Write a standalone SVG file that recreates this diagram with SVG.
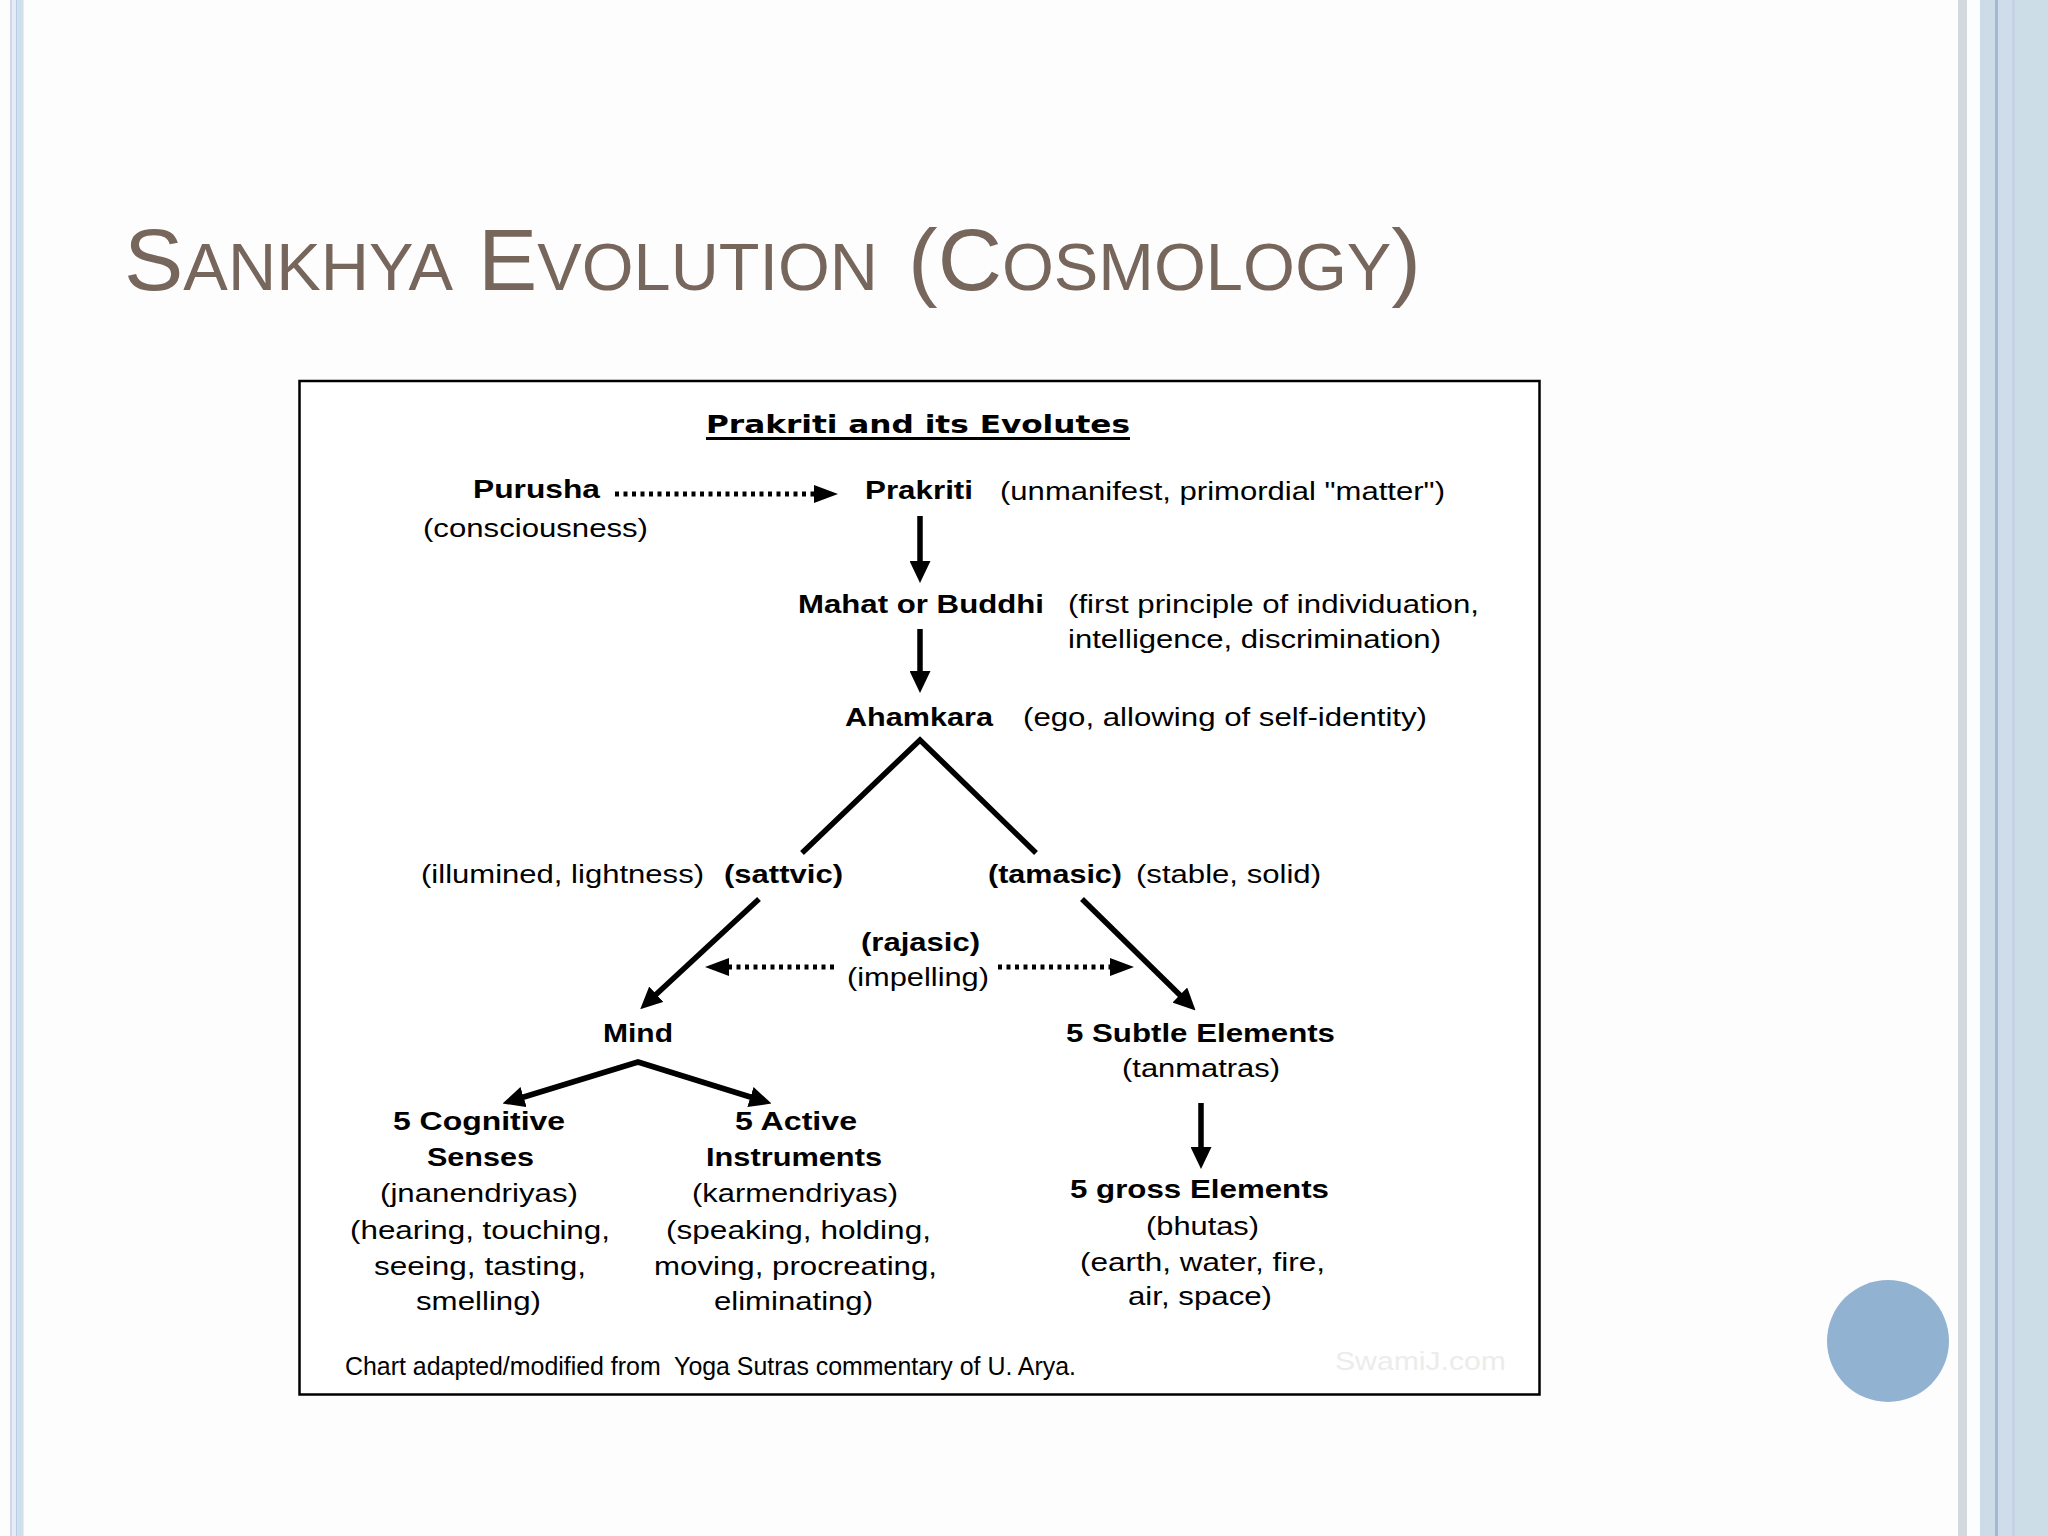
<svg xmlns="http://www.w3.org/2000/svg" width="2048" height="1536" viewBox="0 0 2048 1536">
<style>
.t{font-family:"Liberation Sans",Arial,sans-serif;font-size:26px;fill:#000}
.b{font-weight:bold}
.title{font-family:"Liberation Sans",Arial,sans-serif;fill:#76665b}
.ln{stroke:#000;fill:none}
.solid{stroke-width:5.5}
.dot{stroke-width:5;stroke-dasharray:4 4.5}
</style>
<defs>
<marker id="ah" markerUnits="userSpaceOnUse" viewBox="0 0 22 21" markerWidth="22" markerHeight="21" refX="10" refY="10.5" orient="auto-start-reverse">
<path d="M0,0 L22,10.5 L0,21 z" fill="#000"/>
</marker>
<marker id="ad" markerUnits="userSpaceOnUse" viewBox="0 0 24 18" markerWidth="24" markerHeight="18" refX="4" refY="9" orient="auto">
<path d="M0,0 L24,9 L0,18 z" fill="#000"/>
</marker>
</defs>
<rect x="0" y="0" width="2048" height="1536" fill="#fdfdfe"/>
<g id="left-stripes">
<rect x="10" y="0" width="2.5" height="1536" fill="#d0d7ea"/>
<rect x="12.5" y="0" width="3.5" height="1536" fill="#e6ecf5"/>
<rect x="16" y="0" width="1.5" height="1536" fill="#b9cde2"/>
<rect x="17.5" y="0" width="6" height="1536" fill="#cfe0ec"/>
</g>
<g id="right-stripes">
<rect x="1958" y="0" width="9" height="1536" fill="#d2d9df"/>
<rect x="1967" y="0" width="13" height="1536" fill="#fbfdff"/>
<rect x="1980" y="0" width="15" height="1536" fill="#cddbe9"/>
<rect x="1995" y="0" width="3" height="1536" fill="#a0b8d2"/>
<rect x="1998" y="0" width="14" height="1536" fill="#cfdcea"/>
<rect x="2012" y="0" width="3" height="1536" fill="#c3d3e4"/>
<rect x="2015" y="0" width="33" height="1536" fill="#cddde8"/>
</g>
<circle id="page-dot" cx="1888" cy="1341" r="61" fill="#91b3d1"/>
<g id="title">
<text class="title" x="124" y="290" textLength="329" lengthAdjust="spacingAndGlyphs"><tspan font-size="88">S</tspan><tspan font-size="66">ANKHYA</tspan></text>
<text class="title" x="478" y="290" textLength="400" lengthAdjust="spacingAndGlyphs"><tspan font-size="88">E</tspan><tspan font-size="66">VOLUTION</tspan></text>
<text class="title" x="908" y="290" textLength="513" lengthAdjust="spacingAndGlyphs"><tspan font-size="88">(C</tspan><tspan font-size="66">OSMOLOGY</tspan><tspan font-size="88">)</tspan></text>
</g>
<g id="chart-frame">
<rect x="299.5" y="381" width="1240" height="1013.5" fill="#ffffff" stroke="#000" stroke-width="2.5"/>
</g>
<g id="heading">
<text x="706" y="433" font-family="DejaVu Sans, sans-serif" font-weight="bold" font-size="24" textLength="424" lengthAdjust="spacingAndGlyphs">Prakriti and its Evolutes</text>
<rect x="706" y="437" width="424" height="3" fill="#000"/>
</g>
<g id="connectors">
<line class="ln dot" x1="615" y1="494" x2="818" y2="494" marker-end="url(#ad)"/>
<line class="ln solid" x1="920" y1="516" x2="920" y2="571" marker-end="url(#ah)"/>
<line class="ln solid" x1="920" y1="629" x2="920" y2="681" marker-end="url(#ah)"/>
<polyline class="ln solid" points="802,853 920,740 1036,853"/>
<line class="ln solid" x1="759" y1="899" x2="649" y2="1001" marker-end="url(#ah)"/>
<line class="ln solid" x1="1082" y1="899" x2="1187" y2="1002" marker-end="url(#ah)"/>
<line class="ln dot" x1="834" y1="967" x2="725" y2="967" marker-end="url(#ad)"/>
<line class="ln dot" x1="998" y1="967" x2="1114" y2="967" marker-end="url(#ad)"/>
<path class="ln solid" d="M514,1100 L638,1062 L760,1100" marker-start="url(#ah)" marker-end="url(#ah)"/>
<line class="ln solid" x1="1201" y1="1103" x2="1201" y2="1157" marker-end="url(#ah)"/>
</g>
<g id="purusha">
<text class="t b" x="473" y="498" textLength="127" lengthAdjust="spacingAndGlyphs">Purusha</text>
<text class="t" x="423" y="537" textLength="225" lengthAdjust="spacingAndGlyphs">(consciousness)</text>
</g>
<g id="prakriti">
<text class="t b" x="865" y="499" textLength="108" lengthAdjust="spacingAndGlyphs">Prakriti</text>
<text class="t" x="1000" y="500" textLength="445" lengthAdjust="spacingAndGlyphs">(unmanifest, primordial "matter")</text>
</g>
<g id="mahat">
<text class="t b" x="798" y="613" textLength="246" lengthAdjust="spacingAndGlyphs">Mahat or Buddhi</text>
<text class="t" x="1068" y="613" textLength="411" lengthAdjust="spacingAndGlyphs">(first principle of individuation,</text>
<text class="t" x="1068" y="648" textLength="373" lengthAdjust="spacingAndGlyphs">intelligence, discrimination)</text>
</g>
<g id="ahamkara">
<text class="t b" x="845" y="726" textLength="148" lengthAdjust="spacingAndGlyphs">Ahamkara</text>
<text class="t" x="1023" y="726" textLength="404" lengthAdjust="spacingAndGlyphs">(ego, allowing of self-identity)</text>
</g>
<g id="sattvic">
<text class="t" x="421" y="883" textLength="283" lengthAdjust="spacingAndGlyphs">(illumined, lightness)</text>
<text class="t b" x="724" y="883" textLength="119" lengthAdjust="spacingAndGlyphs">(sattvic)</text>
</g>
<g id="tamasic">
<text class="t b" x="988" y="883" textLength="134" lengthAdjust="spacingAndGlyphs">(tamasic)</text>
<text class="t" x="1136" y="883" textLength="185" lengthAdjust="spacingAndGlyphs">(stable, solid)</text>
</g>
<g id="rajasic">
<text class="t b" x="861" y="951" textLength="119" lengthAdjust="spacingAndGlyphs">(rajasic)</text>
<text class="t" x="847" y="986" textLength="142" lengthAdjust="spacingAndGlyphs">(impelling)</text>
</g>
<g id="mind">
<text class="t b" x="603" y="1042" textLength="70" lengthAdjust="spacingAndGlyphs">Mind</text>
</g>
<g id="subtle-elements">
<text class="t b" x="1066" y="1042" textLength="269" lengthAdjust="spacingAndGlyphs">5 Subtle Elements</text>
<text class="t" x="1122" y="1077" textLength="158" lengthAdjust="spacingAndGlyphs">(tanmatras)</text>
</g>
<g id="cognitive-senses">
<text class="t b" x="393" y="1130" textLength="172" lengthAdjust="spacingAndGlyphs">5 Cognitive</text>
<text class="t b" x="427" y="1166" textLength="107" lengthAdjust="spacingAndGlyphs">Senses</text>
<text class="t" x="380" y="1202" textLength="198" lengthAdjust="spacingAndGlyphs">(jnanendriyas)</text>
<text class="t" x="350" y="1239" textLength="260" lengthAdjust="spacingAndGlyphs">(hearing, touching,</text>
<text class="t" x="374" y="1275" textLength="212" lengthAdjust="spacingAndGlyphs">seeing, tasting,</text>
<text class="t" x="416" y="1310" textLength="125" lengthAdjust="spacingAndGlyphs">smelling)</text>
</g>
<g id="active-instruments">
<text class="t b" x="735" y="1130" textLength="122" lengthAdjust="spacingAndGlyphs">5 Active</text>
<text class="t b" x="706" y="1166" textLength="176" lengthAdjust="spacingAndGlyphs">Instruments</text>
<text class="t" x="692" y="1202" textLength="206" lengthAdjust="spacingAndGlyphs">(karmendriyas)</text>
<text class="t" x="666" y="1239" textLength="265" lengthAdjust="spacingAndGlyphs">(speaking, holding,</text>
<text class="t" x="654" y="1275" textLength="283" lengthAdjust="spacingAndGlyphs">moving, procreating,</text>
<text class="t" x="714" y="1310" textLength="159" lengthAdjust="spacingAndGlyphs">eliminating)</text>
</g>
<g id="gross-elements">
<text class="t b" x="1070" y="1198" textLength="259" lengthAdjust="spacingAndGlyphs">5 gross Elements</text>
<text class="t" x="1146" y="1235" textLength="113" lengthAdjust="spacingAndGlyphs">(bhutas)</text>
<text class="t" x="1080" y="1271" textLength="245" lengthAdjust="spacingAndGlyphs">(earth, water, fire,</text>
<text class="t" x="1128" y="1305" textLength="144" lengthAdjust="spacingAndGlyphs">air, space)</text>
</g>
<g id="footer">
<text class="t" x="345" y="1375" font-size="22" textLength="731" lengthAdjust="spacingAndGlyphs" xml:space="preserve">Chart adapted/modified from  Yoga Sutras commentary of U. Arya.</text>
<text x="1335" y="1370" font-family="Liberation Sans, sans-serif" font-size="25" fill="#ececec" textLength="171" lengthAdjust="spacingAndGlyphs">SwamiJ.com</text>
</g>
</svg>
